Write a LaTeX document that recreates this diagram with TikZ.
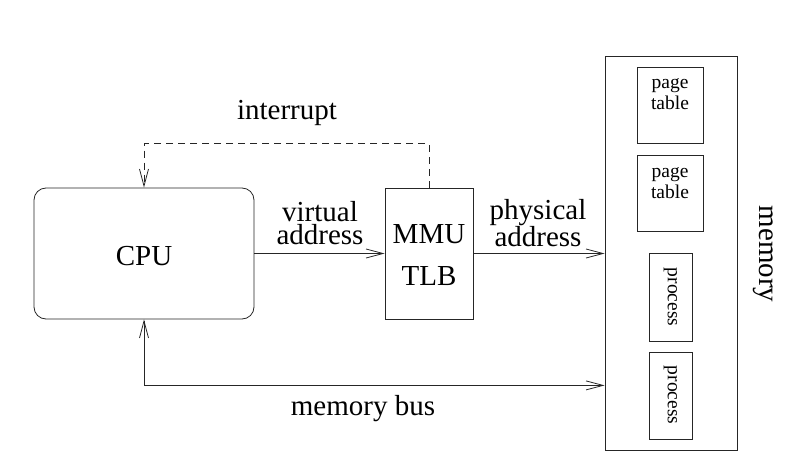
\documentclass[tikz,border=0pt]{standalone}
\usepackage{fontspec}
\setmainfont{Liberation Serif}
\usetikzlibrary{arrows.meta}
\tikzset{
  ln/.style={line width=0.8pt, draw=black!85},
  arr/.style={ln, -{Straight Barb[length=17pt,width=9pt]}},
  barr/.style={ln, {Straight Barb[length=17pt,width=9pt]}-{Straight Barb[length=17pt,width=9pt]}},
  big/.style={font=\fontsize{29}{22.5}\selectfont, align=center, inner sep=0pt},
  small/.style={font=\fontsize{19.5}{21}\selectfont, align=center, inner sep=0pt},
  box/.style={ln, rectangle, inner sep=0pt}
}
\begin{document}
\begin{tikzpicture}[x=1pt,y=-1pt]
\useasboundingbox (0,0) rectangle (792,468);
% boxes
\node[box, rounded corners=12pt, minimum width=220pt, minimum height=131pt] (cpu) at (144,253.5) {};
\node[big] (cputxt) at (144,256) {CPU};
\node[box, minimum width=88pt, minimum height=131pt] (mmu) at (429,253.5) {};
\node[big] (mmutxt) at (429,234) {MMU};
\node[big] (tlbtxt) at (429,276) {TLB};
\node[box, minimum width=132pt, minimum height=394pt] (mem) at (671,253) {};
\node[box, minimum width=66pt, minimum height=76pt] (pt1) at (670,105) {};
\node[small] (pt1t) at (670,94) {page\\table};
\node[box, minimum width=66pt, minimum height=76pt] (pt2) at (670,193) {};
\node[small] (pt2t) at (670,183) {page\\table};
\node[box, minimum width=43pt, minimum height=88pt] (pr1) at (670.5,297) {};
\node[small, rotate=-90] (pr1t) at (670.5,297) {process};
\node[box, minimum width=43pt, minimum height=87pt] (pr2) at (670.5,395.5) {};
\node[small, rotate=-90] (pr2t) at (670.5,395) {process};
\node[big, rotate=-90] (memt) at (763,254) {memory};
% labels
\node[big] (intt) at (287,113) {interrupt};
\node[big] (vat) at (320,223) {virtual\\address};
\node[big] (pat) at (538,223) {physical\\address};
\node[big] (mbt) at (363,409) {memory bus};
% connectors
\draw[arr] (cpu.east) -- (mmu.west);
\draw[arr] (mmu.east) -- (mmu.east -| mem.west);
\draw[arr, dash pattern=on 7pt off 5pt] (mmu.north) -- ++(0,-44) -| (cpu.north);
\draw[barr] (cpu.south) -- ++(0,66) coordinate (busc) -- (busc -| mem.west);
\end{tikzpicture}
\end{document}
